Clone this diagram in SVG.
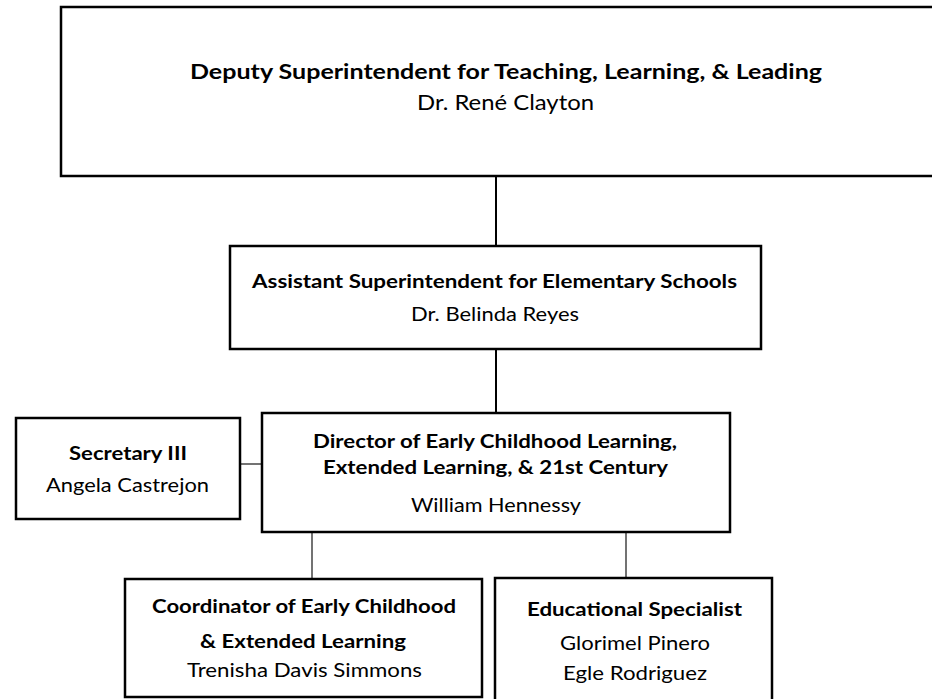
<svg xmlns="http://www.w3.org/2000/svg" width="932" height="699" viewBox="0 0 932 699">
<style>
.box{fill:#fff;stroke:#000;stroke-width:2.5}
.t{font-family:Lato,"Open Sans","Liberation Sans",sans-serif;font-size:18.5px;fill:#000;text-anchor:middle}
.b{font-weight:bold}
.big{font-size:20.5px}
.c{stroke:#000;stroke-width:2;fill:none}
.c2{stroke:#444;stroke-width:1.5;fill:none}
</style>
<rect width="932" height="699" fill="#fff"/>
<g id="connectors">
<line class="c" x1="496" y1="176" x2="496" y2="246"/>
<line class="c" x1="496" y1="349" x2="496" y2="413"/>
<line class="c2" x1="240" y1="464" x2="262" y2="464"/>
<line class="c2" x1="312" y1="532" x2="312" y2="579"/>
<line class="c2" x1="626" y1="532" x2="626" y2="578"/>
</g>
<g id="deputy">
<rect class="box" x="61" y="7" width="900" height="169"/>
<text class="t b big" x="506" y="79" textLength="632" lengthAdjust="spacingAndGlyphs">Deputy Superintendent for Teaching, Learning, &amp; Leading</text>
<text class="t big" x="505.5" y="110" textLength="177" lengthAdjust="spacingAndGlyphs">Dr. René Clayton</text>
</g>
<g id="assistant">
<rect class="box" x="230" y="246" width="531" height="103"/>
<text class="t b" x="494.5" y="288" textLength="485" lengthAdjust="spacingAndGlyphs">Assistant Superintendent for Elementary Schools</text>
<text class="t" x="495" y="321" textLength="168" lengthAdjust="spacingAndGlyphs">Dr. Belinda Reyes</text>
</g>
<g id="director">
<rect class="box" x="262" y="413" width="468" height="119"/>
<text class="t b" x="495" y="448" textLength="364" lengthAdjust="spacingAndGlyphs">Director of Early Childhood Learning,</text>
<text class="t b" x="495.5" y="474" textLength="345" lengthAdjust="spacingAndGlyphs">Extended Learning, &amp; 21st Century</text>
<text class="t" x="496" y="512" textLength="170" lengthAdjust="spacingAndGlyphs">William Hennessy</text>
</g>
<g id="secretary">
<rect class="box" x="16" y="418" width="224" height="101"/>
<text class="t b" x="128" y="460" textLength="118" lengthAdjust="spacingAndGlyphs">Secretary III</text>
<text class="t" x="127.5" y="492" textLength="163" lengthAdjust="spacingAndGlyphs">Angela Castrejon</text>
</g>
<g id="coordinator">
<rect class="box" x="125" y="579" width="357" height="118"/>
<text class="t b" x="304" y="613" textLength="304" lengthAdjust="spacingAndGlyphs">Coordinator of Early Childhood</text>
<text class="t b" x="303" y="648" textLength="206" lengthAdjust="spacingAndGlyphs">&amp; Extended Learning</text>
<text class="t" x="304.5" y="677" textLength="235" lengthAdjust="spacingAndGlyphs">Trenisha Davis Simmons</text>
</g>
<g id="specialist">
<rect class="box" x="495" y="578" width="277" height="130"/>
<text class="t b" x="634.5" y="616" textLength="215" lengthAdjust="spacingAndGlyphs">Educational Specialist</text>
<text class="t" x="635" y="650" textLength="150" lengthAdjust="spacingAndGlyphs">Glorimel Pinero</text>
<text class="t" x="635" y="680" textLength="144" lengthAdjust="spacingAndGlyphs">Egle Rodriguez</text>
</g>
</svg>
